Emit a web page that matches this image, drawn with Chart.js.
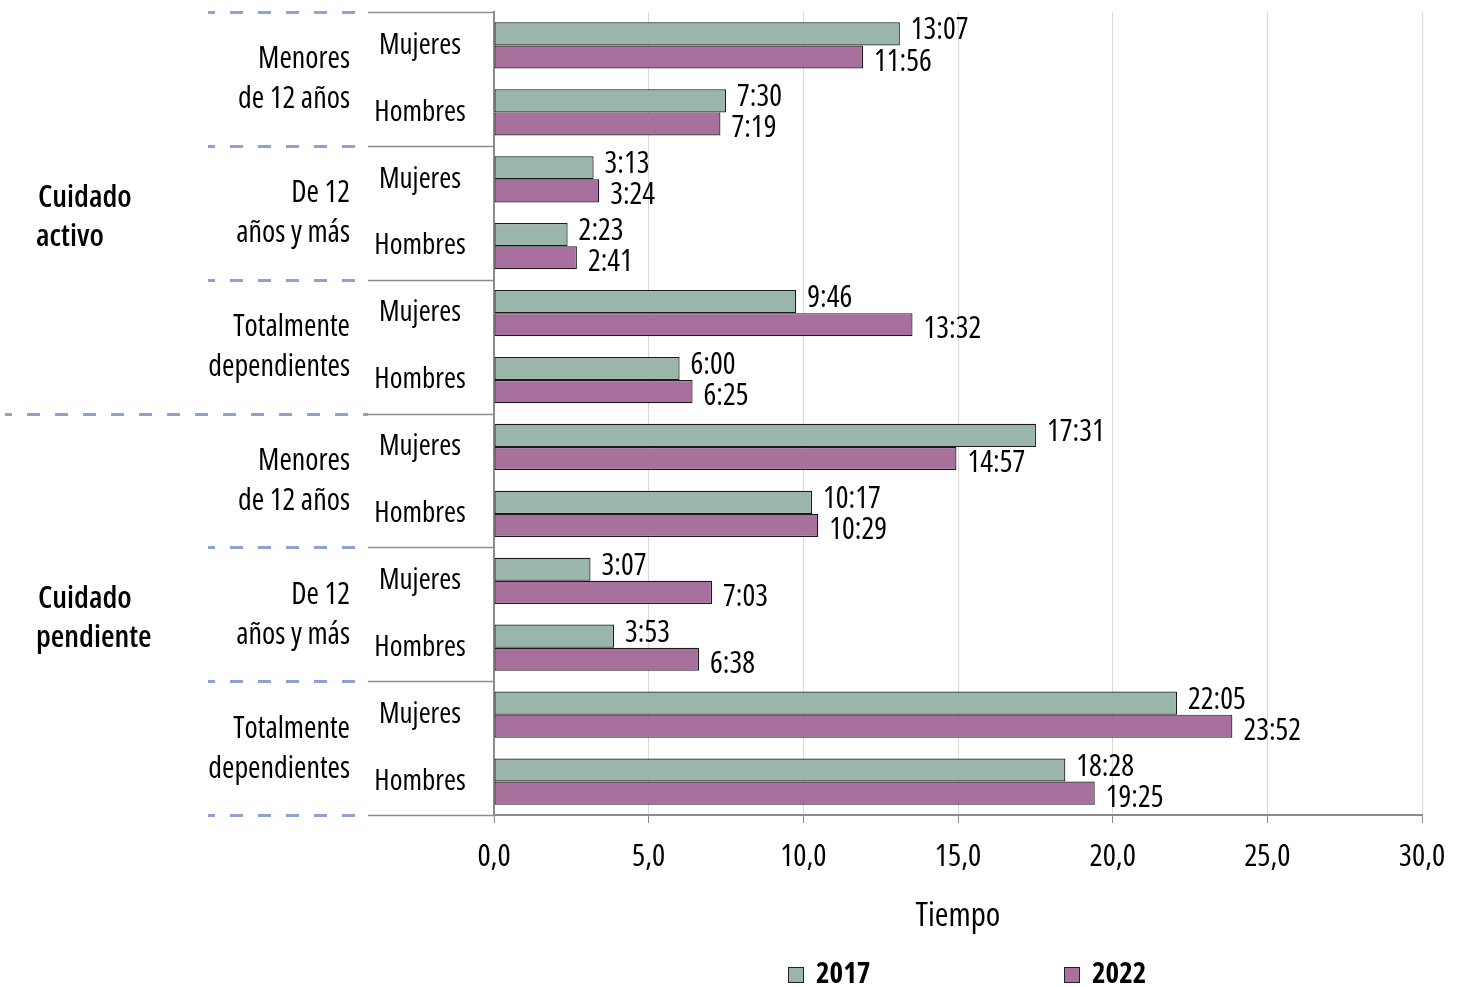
<!DOCTYPE html>
<html><head><meta charset="utf-8">
<script src="https://cdn.jsdelivr.net/npm/chart.js@4.4.1/dist/chart.umd.min.js"></script>
<style>html,body{margin:0;padding:0;background:#fff;}#wrap{width:1463px;height:987px;position:relative;}</style>
</head><body><div id="wrap"><canvas id="c" width="1463" height="987"></canvas></div>
<script>
// ---- data ----
const sexLabels = ['Mujeres','Hombres','Mujeres','Hombres','Mujeres','Hombres','Mujeres','Hombres','Mujeres','Hombres','Mujeres','Hombres'];
const ageGroups = [['Menores','de 12 años'],['De 12','años y más'],['Totalmente','dependientes'],['Menores','de 12 años'],['De 12','años y más'],['Totalmente','dependientes']];
const careTypes = [['Cuidado','activo'],['Cuidado','pendiente']];
const years = ['2017','2022'];
const values2017 = [13.12, 7.50, 3.22, 2.38, 9.77, 6.00, 17.52, 10.28, 3.12, 3.88, 22.08, 18.47];
const values2022 = [11.93, 7.32, 3.40, 2.68, 13.53, 6.42, 14.95, 10.48, 7.05, 6.63, 23.87, 19.42];
const labels2017 = ['13:07','7:30','3:13','2:23','9:46','6:00','17:31','10:17','3:07','3:53','22:05','18:28'];
const labels2022 = ['11:56','7:19','3:24','2:41','13:32','6:25','14:57','10:29','7:03','6:38','23:52','19:25'];
const xMin = 0, xMax = 30, xStep = 5;
const axisTitle = 'Tiempo';
const colors = ['#9AB5AA', '#A8709D'];

// ---- font selection (condensed face) ----
function pickFont(){
  const c = document.createElement('canvas').getContext('2d');
  const s = 'Mujeres Hombres dependientes';
  const cands = [
    ['condensed', '"Open Sans"', '"Open Sans"'],
    ['', '"Open Sans Condensed"', '"Open Sans"'],
    ['', '"DejaVu Sans Condensed"', '"DejaVu Sans"'],
    ['condensed', '"DejaVu Sans"', '"DejaVu Sans"'],
    ['', '"Liberation Sans Narrow"', '"Liberation Sans"']
  ];
  for (const [st, fam, base] of cands){
    c.font = '28px ' + base; const w1 = c.measureText(s).width;
    c.font = (st ? st + ' ' : '') + '28px ' + fam; const w2 = c.measureText(s).width;
    if (w2 < w1 * 0.93) return {st, fam};
  }
  return {st:'', fam:'sans-serif'};
}
const F = pickFont();
const ST = F.st ? ' ' + F.st : '';
const font = (w, size) => `${w}${ST} ${size}px ${F.fam}`;

const decor = {
  id: 'decor',
  afterDraw(chart){
    const {ctx, chartArea: a, scales: {y}} = chart;
    const n = chart.data.labels.length;
    const edge = i => y.getPixelForValue(i - 0.5);
    ctx.save();
    // separators
    for (let k = 0; k <= n; k += 2){
      const yy = Math.round(edge(k)) + 0.5;
      ctx.strokeStyle = '#8c8c8c'; ctx.lineWidth = 1.5; ctx.setLineDash([]);
      ctx.beginPath(); ctx.moveTo(368, yy); ctx.lineTo(a.left, yy); ctx.stroke();
      ctx.strokeStyle = '#8EA3D3'; ctx.lineWidth = 3; ctx.setLineDash([13, 15]); ctx.lineDashOffset = 6;
      ctx.beginPath(); ctx.moveTo(k === n/2 ? 5 : 208, yy); ctx.lineTo(368, yy); ctx.stroke();
    }
    ctx.setLineDash([]);
    ctx.fillStyle = '#000'; ctx.textBaseline = 'middle';
    // sex labels
    ctx.font = font('normal', 29); ctx.textAlign = 'center';
    chart.data.labels.forEach((l, i) => ctx.fillText(l, 420, y.getPixelForValue(i)));
    // age group labels
    ctx.textAlign = 'right'; ctx.font = font('normal', 30);
    ageGroups.forEach((g, k) => {
      const c = (y.getPixelForValue(2*k) + y.getPixelForValue(2*k+1)) / 2;
      ctx.fillText(g[0], 350, c - 19);
      ctx.fillText(g[1], 350, c + 21);
    });
    // care type labels
    ctx.textAlign = 'left'; ctx.font = font('600', 31);
    careTypes.forEach((g, k) => {
      const c = (edge(6*k) + edge(6*k+6)) / 2;
      ctx.fillText(g[0], 38, c - 15);
      ctx.fillText(g[1], 36, c + 24);
    });
    // data labels
    ctx.font = font('normal', 30); ctx.textAlign = 'left';
    const lab = [labels2017, labels2022];
    const dy = [-3, 5];
    chart.data.datasets.forEach((ds, di) => {
      chart.getDatasetMeta(di).data.forEach((bar, i) => {
        ctx.fillText(lab[di][i], bar.x + 11, bar.y + dy[di]);
      });
    });
    // legend
    const cx = (a.left + a.right) / 2;
    const ly = 975;
    const pos = [cx - 170, cx + 106];
    ctx.font = font('bold', 29);
    years.forEach((yr, i) => {
      ctx.fillStyle = colors[i]; ctx.fillRect(pos[i], ly - 8, 16, 16);
      ctx.strokeStyle = '#222'; ctx.lineWidth = 1; ctx.strokeRect(pos[i] + 0.5, ly - 7.5, 15, 15);
      ctx.fillStyle = '#000'; ctx.fillText(yr, pos[i] + 28, ly);
    });
    ctx.restore();
  }
};

new Chart(document.getElementById('c'), {
  type: 'bar',
  data: {
    labels: sexLabels,
    datasets: [
      {label: years[0], data: values2017, backgroundColor: colors[0], borderColor: '#1a1a1a', borderWidth: 1.2, borderSkipped: false},
      {label: years[1], data: values2022, backgroundColor: colors[1], borderColor: '#1a1a1a', borderWidth: 1.2, borderSkipped: false}
    ]
  },
  options: {
    indexAxis: 'y',
    responsive: false,
    animation: false,
    layout: {padding: {top: 12, right: 41, bottom: 50, left: 0}},
    datasets: {bar: {categoryPercentage: 0.69, barPercentage: 1}},
    plugins: {legend: {display: false}, tooltip: {enabled: false}},
    scales: {
      x: {
        min: xMin, max: xMax,
        ticks: {stepSize: xStep, color: '#000', padding: 16, font: {family: F.fam, size: 31, weight: 'normal' + ST},
          callback: v => v.toFixed(1).replace('.', ',')},
        grid: {color: '#d9d9d9', lineWidth: 1, tickColor: '#8c8c8c', tickLength: 8},
        border: {color: '#8c8c8c', width: 2},
        title: {display: true, text: axisTitle, color: '#000', font: {family: F.fam, size: 33, weight: '500' + ST}, padding: {top: 0, bottom: 1}},
        afterFit(s){ s.height = 122; }
      },
      y: {
        ticks: {display: false},
        grid: {display: false},
        border: {color: '#8c8c8c', width: 2},
        afterFit(s){ s.width = 494; }
      }
    }
  },
  plugins: [decor]
});
</script></body></html>
